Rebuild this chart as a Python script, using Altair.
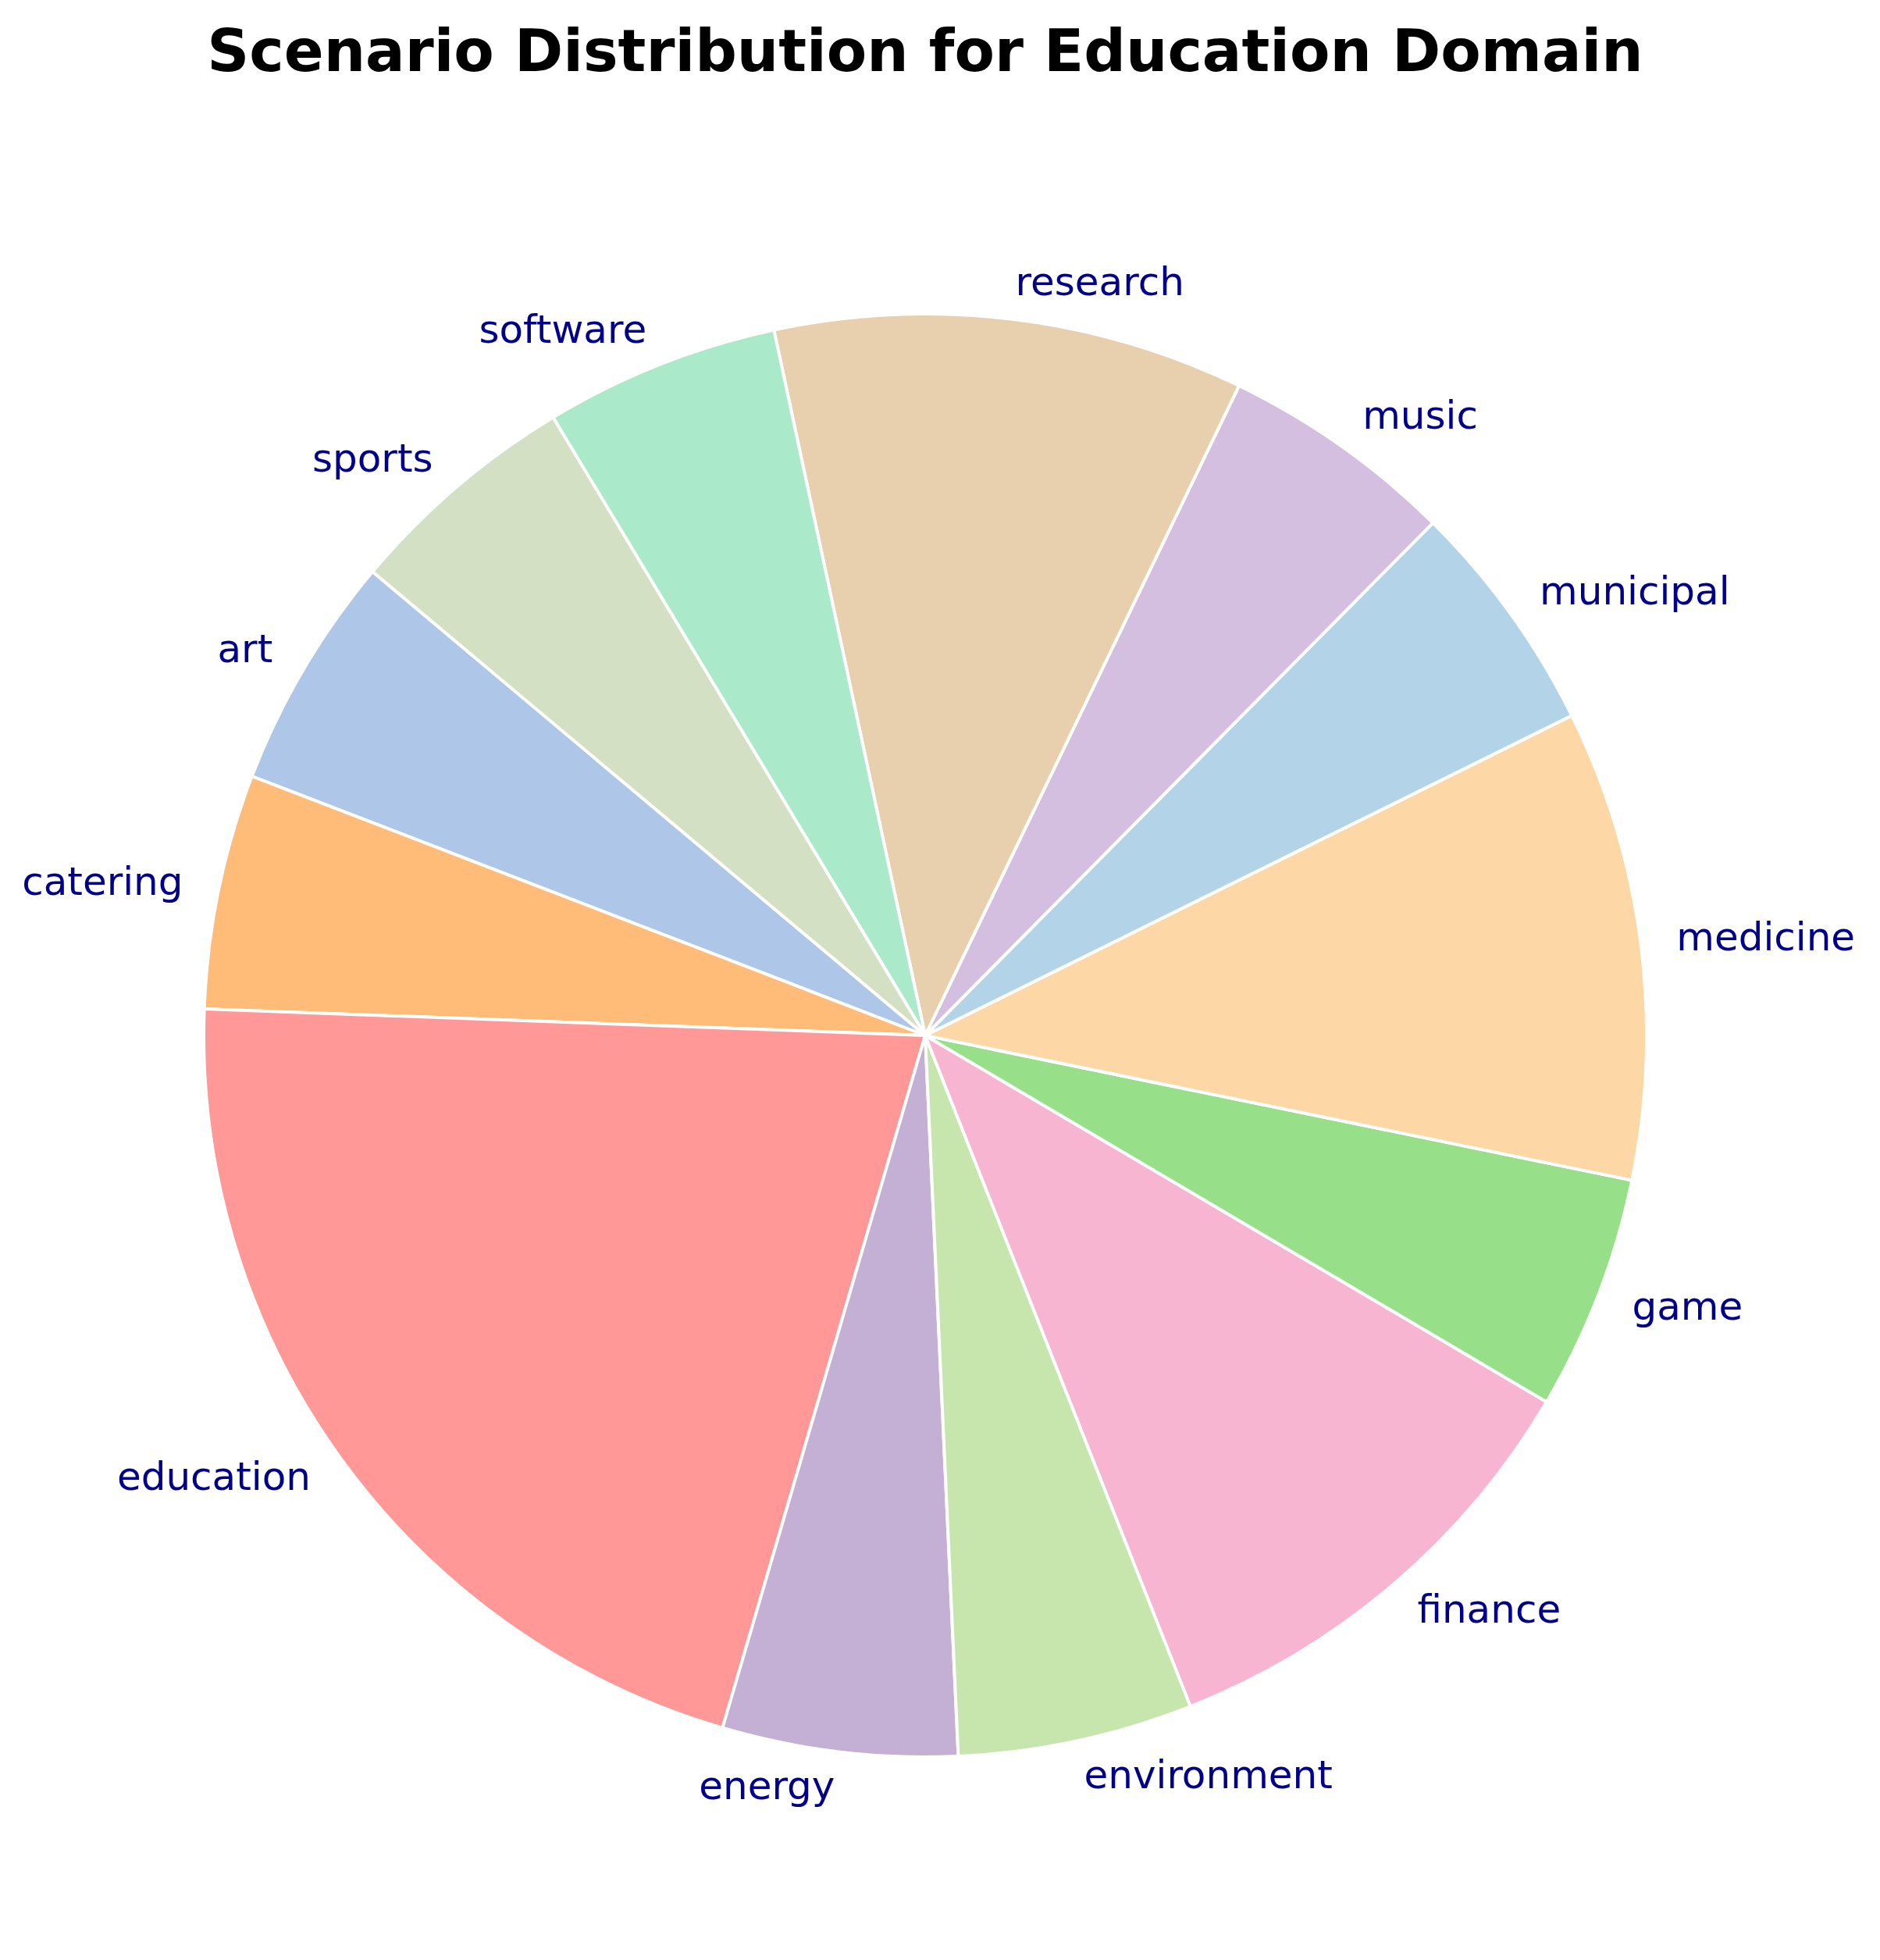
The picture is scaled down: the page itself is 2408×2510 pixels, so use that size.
import math
import altair as alt
import pandas as pd

categories = ["art", "catering", "education", "energy", "environment", "finance",
              "game", "medicine", "municipal", "music", "research", "software", "sports"]
counts = [1, 1, 4, 1, 1, 2, 1, 2, 1, 1, 2, 1, 1]
colors = ["#aec7e8", "#ffbb78", "#ff9896", "#c5b0d5", "#c7e6ad", "#f7b5d2",
          "#98df8a", "#fdd7a5", "#b3d3e8", "#d4bfe0", "#e8cfad", "#aae9ca", "#d3e0c4"]

df = pd.DataFrame({"category": categories, "count": counts})
total = sum(counts)

start_rad = math.radians(310)
theta_scale = alt.Scale(domain=[0, total], range=[start_rad, start_rad + 2 * math.pi])

R = 924
LABEL_R = R * 1.05

base = alt.Chart(df).transform_window(
    end="sum(count)",
    sort=[alt.SortField("category", order="descending")],
    frame=[None, 0],
).transform_calculate(
    start="datum.end - datum.count",
    mid="datum.end - datum.count / 2",
    ang=f"{start_rad} + (datum.end - datum.count / 2) / {total} * 2 * PI",
)

arcs = base.mark_arc(outerRadius=R, stroke="white", strokeWidth=4).encode(
    theta=alt.Theta("start:Q", scale=theta_scale, stack=False),
    theta2="end:Q",
    color=alt.Color("category:N", scale=alt.Scale(domain=categories, range=colors), legend=None),
)

text_kw = dict(radius=LABEL_R, baseline="middle", font="DejaVu Sans", fontSize=50, color="#00008b")

labels_right = base.transform_filter("sin(datum.ang) > 0").mark_text(align="left", **text_kw).encode(
    theta=alt.Theta("mid:Q", scale=theta_scale, stack=False),
    text="category:N",
)
labels_left = base.transform_filter("sin(datum.ang) <= 0").mark_text(align="right", **text_kw).encode(
    theta=alt.Theta("mid:Q", scale=theta_scale, stack=False),
    text="category:N",
)

chart = alt.layer(arcs, labels_right, labels_left).properties(
    width=2354,
    height=2236,
    autosize=alt.AutoSizeParams(type="none"),
    padding={"left": 0, "top": 200, "right": 24, "bottom": 0},
    title=alt.TitleParams(
        "Scenario Distribution for Education Domain",
        fontSize=75,
        fontWeight="bold",
        font="DejaVu Sans",
        color="black",
        anchor="middle",
        frame="group",
        baseline="alphabetic",
        offset=42,
    ),
).configure_view(strokeWidth=0)

chart.save("out.html", embed_options={"renderer": "svg", "actions": False})
